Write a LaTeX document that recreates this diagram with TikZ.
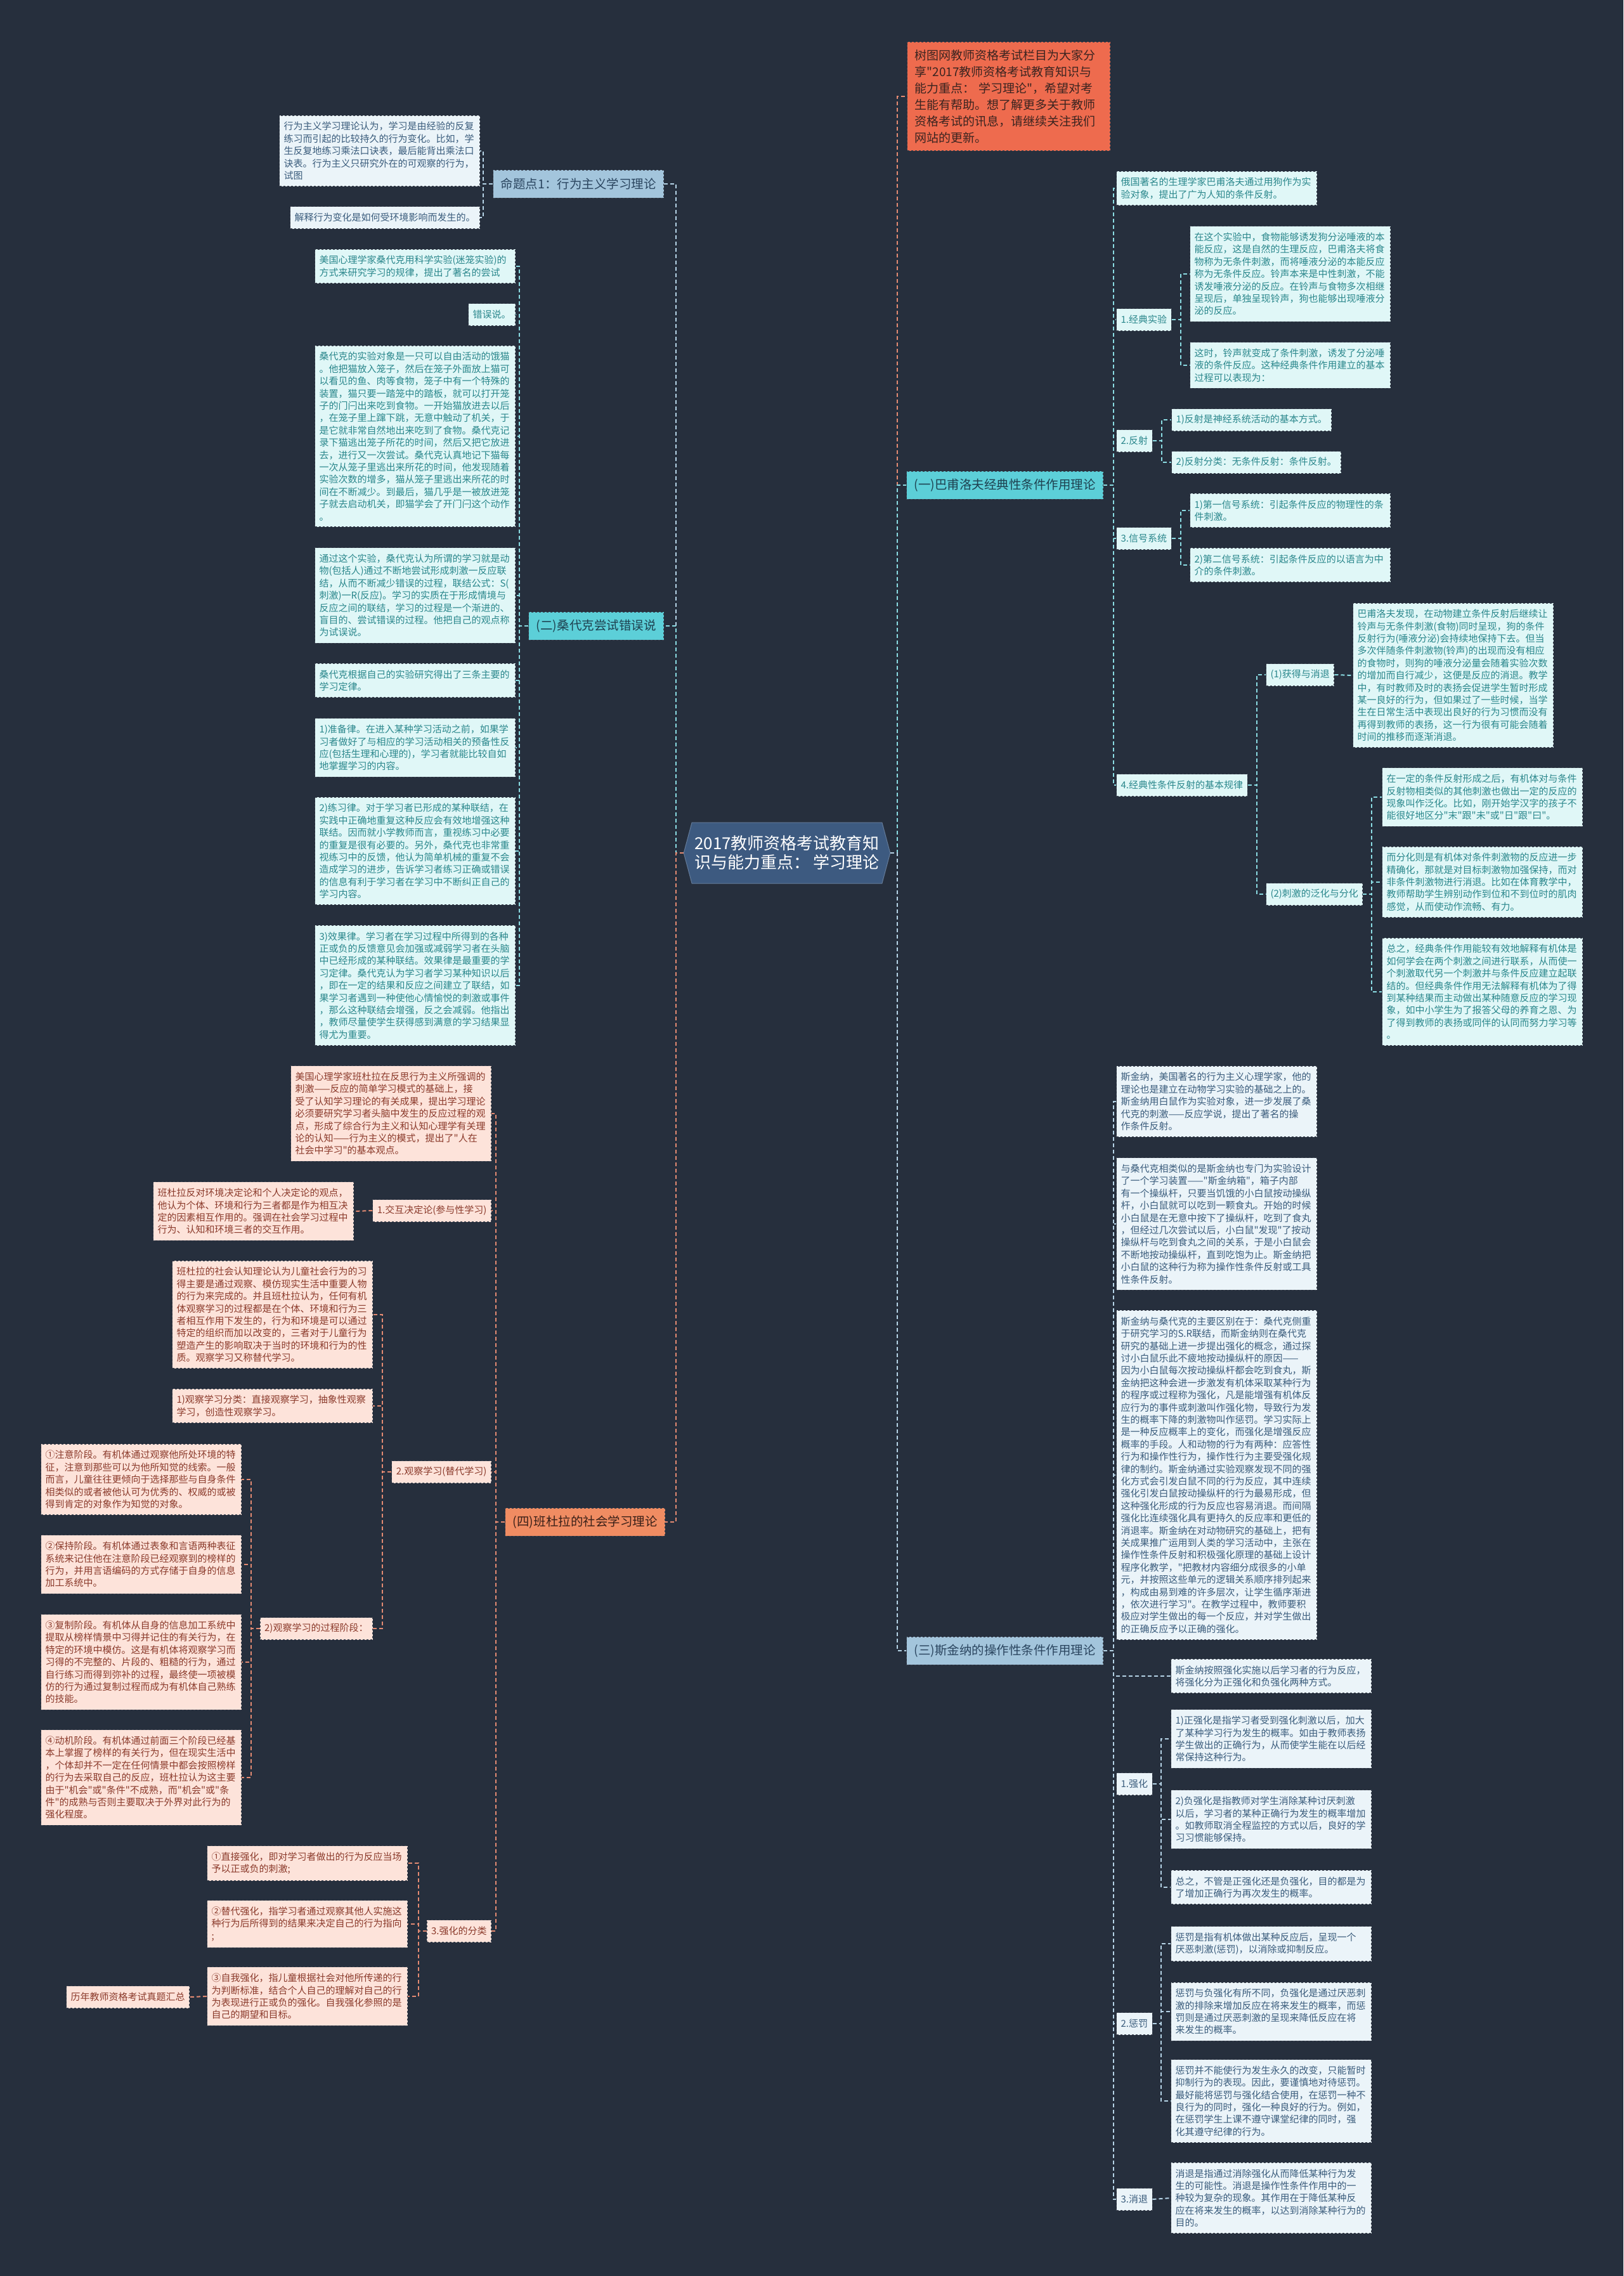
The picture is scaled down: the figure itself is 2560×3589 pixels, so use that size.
\documentclass[tikz,border=0pt]{standalone}
\usepackage{fontspec}
\setmainfont{Noto Sans CJK SC}[Ligatures=TeXOff]
\usetikzlibrary{shapes.symbols}
\definecolor{bg}{HTML}{262F3D}
\definecolor{bd}{HTML}{3C4350}
\definecolor{tcf}{HTML}{E0F7F7}
\definecolor{tct}{HTML}{2A878C}
\definecolor{tcatf}{HTML}{5CCFD8}
\definecolor{tcatt}{HTML}{1E4150}
\definecolor{mcf}{HTML}{EBF4F9}
\definecolor{mct}{HTML}{3A5C7C}
\definecolor{mcatf}{HTML}{A3C5DC}
\definecolor{mcatt}{HTML}{2B4660}
\definecolor{bcf}{HTML}{FDE3DA}
\definecolor{bct}{HTML}{8B3A2B}
\definecolor{bcatf}{HTML}{F08C62}
\definecolor{bcatt}{HTML}{3A2018}
\definecolor{corf}{HTML}{EE6B4E}
\definecolor{cort}{HTML}{3B2420}
\definecolor{ctrf}{HTML}{3D5A80}
\definecolor{lc}{HTML}{8ADBE2}
\definecolor{lb}{HTML}{B5D3E6}
\definecolor{ls}{HTML}{E38A72}
\newcommand\fz{\fontsize{15}{19.4}\selectfont}
\tikzset{
  box/.style={draw=bd, dashed, line width=1pt, align=left, font=\fz},
  multi/.style={box, text width=302pt, inner xsep=7pt, inner ysep=10pt},
  single/.style={box, inner xsep=7pt, inner ysep=4pt, minimum height=35pt},
  tchild/.style={multi, fill=tcf, text=tct},
  tsub/.style={single, fill=tcf, text=tct},
  mchild/.style={multi, fill=mcf, text=mct},
  msub/.style={single, fill=mcf, text=mct},
  bchild/.style={multi, fill=bcf, text=bct},
  bsub/.style={single, fill=bcf, text=bct},
  cat/.style={draw=bd, dashed, line width=1pt, font=\fontsize{19.5}{24}\selectfont, inner xsep=12pt, minimum height=44pt},
  tcat/.style={cat, fill=tcatf, text=tcatt},
  mcat/.style={cat, fill=mcatf, text=mcatt},
  bcat/.style={cat, fill=bcatf, text=bcatt},
  ctrnode/.style={signal, signal to=west and east, signal pointer angle=150, fill=ctrf, draw=ctrf!80!white, line width=1pt, text=white, font=\fontsize{26}{30}\selectfont, align=center, minimum width=322pt, minimum height=96pt, inner xsep=4pt},
  conn/.style={line width=2pt, dash pattern=on 6pt off 4pt},
  cc/.style={conn, draw=lc},
  cb/.style={conn, draw=lb},
  cs/.style={conn, draw=ls},
}
\begin{document}
\begin{tikzpicture}[x=1pt,y=-1pt]
\fill[bg] (0,0) rectangle (2560,3589);
\useasboundingbox (0,0) rectangle (2560,3589);

% ---------- center ----------
\node[ctrnode] (ctr) at (1241,1345) {2017教师资格考试教育知\\识与能力重点： 学习理论};

% ---------- 命题点1 ----------
\node[mcat, anchor=east] (m1) at (1047,290) {命题点1：行为主义学习理论};
\node[mchild, anchor=east] (m1a) at (757,238) {行为主义学习理论认为，学习是由经验的反复\\练习而引起的比较持久的行为变化。比如，学\\生反复地练习乘法口诀表，最后能背出乘法口\\诀表。行为主义只研究外在的可观察的行为，\\试图};
\node[msub, anchor=east] (m1b) at (757,343) {解释行为变化是如何受环境影响而发生的。};

% ---------- (二) 桑代克 ----------
\node[tcat, anchor=east] (t0) at (1047,987) {(二)桑代克尝试错误说};
\node[tchild, anchor=east] (t1) at (813,420) {美国心理学家桑代克用科学实验(迷笼实验)的\\方式来研究学习的规律，提出了著名的尝试};
\node[tsub, anchor=east] (t2) at (813,496) {错误说。};
\node[tchild, anchor=east] (t3) at (813,688) {桑代克的实验对象是一只可以自由活动的饿猫\\。他把猫放入笼子，然后在笼子外面放上猫可\\以看见的鱼、肉等食物，笼子中有一个特殊的\\装置，猫只要一踏笼中的踏板，就可以打开笼\\子的门闩出来吃到食物。一开始猫放进去以后\\，在笼子里上蹿下跳，无意中触动了机关，于\\是它就非常自然地出来吃到了食物。桑代克记\\录下猫逃出笼子所花的时间，然后又把它放进\\去，进行又一次尝试。桑代克认真地记下猫每\\一次从笼子里逃出来所花的时间，他发现随着\\实验次数的增多，猫从笼子里逃出来所花的时\\间在不断减少。到最后，猫几乎是一被放进笼\\子就去启动机关，即猫学会了开门闩这个动作\\。};
\node[tchild, anchor=east] (t4) at (813,939) {通过这个实验，桑代克认为所谓的学习就是动\\物(包括人)通过不断地尝试形成刺激一反应联\\结，从而不断减少错误的过程，联结公式：S(\\刺激)一R(反应)。学习的实质在于形成情境与\\反应之间的联结，学习的过程是一个渐进的、\\盲目的、尝试错误的过程。他把自己的观点称\\为试误说。};
\node[tchild, anchor=east] (t5) at (813,1073) {桑代克根据自己的实验研究得出了三条主要的\\学习定律。};
\node[tchild, anchor=east] (t6) at (813,1179) {1)准备律。在进入某种学习活动之前，如果学\\习者做好了与相应的学习活动相关的预备性反\\应(包括生理和心理的)，学习者就能比较自如\\地掌握学习的内容。};
\node[tchild, anchor=east] (t7) at (813,1342) {2)练习律。对于学习者已形成的某种联结，在\\实践中正确地重复这种反应会有效地增强这种\\联结。因而就小学教师而言，重视练习中必要\\的重复是很有必要的。另外，桑代克也非常重\\视练习中的反馈，他认为简单机械的重复不会\\造成学习的进步，告诉学习者练习正确或错误\\的信息有利于学习者在学习中不断纠正自己的\\学习内容。};
\node[tchild, anchor=east] (t8) at (813,1554) {3)效果律。学习者在学习过程中所得到的各种\\正或负的反馈意见会加强或减弱学习者在头脑\\中已经形成的某种联结。效果律是最重要的学\\习定律。桑代克认为学习者学习某种知识以后\\，即在一定的结果和反应之间建立了联结，如\\果学习者遇到一种使他心情愉悦的刺激或事件\\，那么这种联结会增强，反之会减弱。他指出\\，教师尽量使学生获得感到满意的学习结果显\\得尤为重要。};

% ---------- (四) 班杜拉 ----------
\node[bcat, anchor=east] (b0) at (1049,2400) {(四)班杜拉的社会学习理论};
\node[bchild, anchor=east] (b1) at (775,1756) {美国心理学家班杜拉在反思行为主义所强调的\\刺激——反应的简单学习模式的基础上，接\\受了认知学习理论的有关成果，提出学习理论\\必须要研究学习者头脑中发生的反应过程的观\\点，形成了综合行为主义和认知心理学有关理\\论的认知——行为主义的模式，提出了"人在\\社会中学习"的基本观点。};
\node[bsub, anchor=east] (b2) at (775,1909) {1.交互决定论(参与性学习)};
\node[bchild, anchor=east] (b2a) at (558,1910) {班杜拉反对环境决定论和个人决定论的观点，\\他认为个体、环境和行为三者都是作为相互决\\定的因素相互作用的。强调在社会学习过程中\\行为、认知和环境三者的交互作用。};
\node[bsub, anchor=east] (b3) at (775,2321) {2.观察学习(替代学习)};
\node[bchild, anchor=east] (b3a) at (588,2073) {班杜拉的社会认知理论认为儿童社会行为的习\\得主要是通过观察、模仿现实生活中重要人物\\的行为来完成的。并且班杜拉认为，任何有机\\体观察学习的过程都是在个体、环境和行为三\\者相互作用下发生的，行为和环境是可以通过\\特定的组织而加以改变的，三者对于儿童行为\\塑造产生的影响取决于当时的环境和行为的性\\质。观察学习又称替代学习。};
\node[bchild, anchor=east] (b3b) at (588,2217) {1)观察学习分类：直接观察学习，抽象性观察\\学习，创造性观察学习。};
\node[bsub, anchor=east] (b3c) at (588,2568) {2)观察学习的过程阶段：};
\node[bchild, anchor=east] (b3c1) at (381,2333) {①注意阶段。有机体通过观察他所处环境的特\\征，注意到那些可以为他所知觉的线索。一般\\而言，儿童往往更倾向于选择那些与自身条件\\相类似的或者被他认可为优秀的、权威的或被\\得到肯定的对象作为知觉的对象。};
\node[bchild, anchor=east] (b3c2) at (381,2467) {②保持阶段。有机体通过表象和言语两种表征\\系统来记住他在注意阶段已经观察到的榜样的\\行为，并用言语编码的方式存储于自身的信息\\加工系统中。};
\node[bchild, anchor=east] (b3c3) at (381,2621) {③复制阶段。有机体从自身的信息加工系统中\\提取从榜样情景中习得并记住的有关行为，在\\特定的环境中模仿。这是有机体将观察学习而\\习得的不完整的、片段的、粗糙的行为，通过\\自行练习而得到弥补的过程，最终使一项被模\\仿的行为通过复制过程而成为有机体自己熟练\\的技能。};
\node[bchild, anchor=east] (b3c4) at (381,2803) {④动机阶段。有机体通过前面三个阶段已经基\\本上掌握了榜样的有关行为，但在现实生活中\\，个体却并不一定在任何情景中都会按照榜样\\的行为去采取自己的反应，班杜拉认为这主要\\由于"机会"或"条件"不成熟，而"机会"或"条\\件"的成熟与否则主要取决于外界对此行为的\\强化程度。};
\node[bsub, anchor=east] (b4) at (775,3045) {3.强化的分类};
\node[bchild, anchor=east] (b4a) at (643,2938) {①直接强化，即对学习者做出的行为反应当场\\予以正或负的刺激;};
\node[bchild, anchor=east] (b4b) at (643,3034) {②替代强化，指学习者通过观察其他人实施这\\种行为后所得到的结果来决定自己的行为指向\\;};
\node[bchild, anchor=east] (b4c) at (643,3148) {③自我强化，指儿童根据社会对他所传递的行\\为判断标准，结合个人自己的理解对自己的行\\为表现进行正或负的强化。自我强化参照的是\\自己的期望和目标。};
\node[bsub, anchor=east] (b4d) at (299,3149) {历年教师资格考试真题汇总};

% ---------- coral intro ----------
\node[draw=bd, dashed, line width=1pt, fill=corf, text=cort, anchor=west, text width=296pt, inner xsep=12pt, inner ysep=12pt, align=left, font=\fontsize{19}{26}\selectfont] (co) at (1430,152) {树图网教师资格考试栏目为大家分\\享"2017教师资格考试教育知识与\\能力重点： 学习理论"，希望对考\\生能有帮助。想了解更多关于教师\\资格考试的讯息，请继续关注我们\\网站的更新。};

% ---------- (一) 巴甫洛夫 ----------
\node[tcat, anchor=west] (p0) at (1429,765) {(一)巴甫洛夫经典性条件作用理论};
\node[tchild, anchor=west] (p1) at (1760,297) {俄国著名的生理学家巴甫洛夫通过用狗作为实\\验对象，提出了广为人知的条件反射。};
\node[tsub, anchor=west] (p2) at (1760,504) {1.经典实验};
\node[tchild, anchor=west] (p2a) at (1876,432) {在这个实验中，食物能够诱发狗分泌唾液的本\\能反应，这是自然的生理反应，巴甫洛夫将食\\物称为无条件刺激，而将唾液分泌的本能反应\\称为无条件反应。铃声本来是中性刺激，不能\\诱发唾液分泌的反应。在铃声与食物多次相继\\呈现后，单独呈现铃声，狗也能够出现唾液分\\泌的反应。};
\node[tchild, anchor=west] (p2b) at (1876,576) {这时，铃声就变成了条件刺激，诱发了分泌唾\\液的条件反应。这种经典条件作用建立的基本\\过程可以表现为：};
\node[tsub, anchor=west] (p3) at (1760,695) {2.反射};
\node[tsub, anchor=west] (p3a) at (1847,662) {1)反射是神经系统活动的基本方式。};
\node[tsub, anchor=west] (p3b) at (1847,729) {2)反射分类：无条件反射：条件反射。};
\node[tsub, anchor=west] (p4) at (1760,849) {3.信号系统};
\node[tchild, anchor=west] (p4a) at (1876,805) {1)第一信号系统：引起条件反应的物理性的条\\件刺激。};
\node[tchild, anchor=west] (p4b) at (1876,891) {2)第二信号系统：引起条件反应的以语言为中\\介的条件刺激。};
\node[tsub, anchor=west] (p5) at (1760,1238) {4.经典性条件反射的基本规律};
\node[tsub, anchor=west] (p5a) at (1996,1064) {(1)获得与消退};
\node[tchild, anchor=west] (p5a1) at (2133,1065) {巴甫洛夫发现，在动物建立条件反射后继续让\\铃声与无条件刺激(食物)同时呈现，狗的条件\\反射行为(唾液分泌)会持续地保持下去。但当\\多次伴随条件刺激物(铃声)的出现而没有相应\\的食物时，则狗的唾液分泌量会随着实验次数\\的增加而自行减少，这便是反应的消退。教学\\中，有时教师及时的表扬会促进学生暂时形成\\某一良好的行为，但如果过了一些时候，当学\\生在日常生活中表现出良好的行为习惯而没有\\再得到教师的表扬，这一行为很有可能会随着\\时间的推移而逐渐消退。};
\node[tsub, anchor=west] (p5b) at (1996,1410) {(2)刺激的泛化与分化};
\node[tchild, anchor=west] (p5b1) at (2179,1257) {在一定的条件反射形成之后，有机体对与条件\\反射物相类似的其他刺激也做出一定的反应的\\现象叫作泛化。比如，刚开始学汉字的孩子不\\能很好地区分"末"跟"未"或"日"跟"曰"。};
\node[tchild, anchor=west] (p5b2) at (2179,1391) {而分化则是有机体对条件刺激物的反应进一步\\精确化，那就是对目标刺激物加强保持，而对\\非条件刺激物进行消退。比如在体育教学中，\\教师帮助学生辨别动作到位和不到位时的肌肉\\感觉，从而使动作流畅、有力。};
\node[tchild, anchor=west] (p5b3) at (2179,1564) {总之，经典条件作用能较有效地解释有机体是\\如何学会在两个刺激之间进行联系，从而使一\\个刺激取代另一个刺激并与条件反应建立起联\\结的。但经典条件作用无法解释有机体为了得\\到某种结果而主动做出某种随意反应的学习现\\象，如中小学生为了报答父母的养育之恩、为\\了得到教师的表扬或同伴的认同而努力学习等\\。};

% ---------- (三) 斯金纳 ----------
\node[mcat, anchor=west] (s0) at (1429,2603) {(三)斯金纳的操作性条件作用理论};
\node[mchild, anchor=west] (s1) at (1760,1737) {斯金纳，美国著名的行为主义心理学家，他的\\理论也是建立在动物学习实验的基础之上的。\\斯金纳用白鼠作为实验对象，进一步发展了桑\\代克的刺激——反应学说，提出了著名的操\\作条件反射。};
\node[mchild, anchor=west] (s2) at (1760,1930) {与桑代克相类似的是斯金纳也专门为实验设计\\了一个学习装置——"斯金纳箱"，箱子内部\\有一个操纵杆，只要当饥饿的小白鼠按动操纵\\杆，小白鼠就可以吃到一颗食丸。开始的时候\\小白鼠是在无意中按下了操纵杆，吃到了食丸\\，但经过几次尝试以后，小白鼠"发现"了按动\\操纵杆与吃到食丸之间的关系，于是小白鼠会\\不断地按动操纵杆，直到吃饱为止。斯金纳把\\小白鼠的这种行为称为操作性条件反射或工具\\性条件反射。};
\node[mchild, anchor=west] (s3) at (1760,2326) {斯金纳与桑代克的主要区别在于：桑代克侧重\\于研究学习的S.R联结，而斯金纳则在桑代克\\研究的基础上进一步提出强化的概念，通过探\\讨小白鼠乐此不疲地按动操纵杆的原因——\\因为小白鼠每次按动操纵杆都会吃到食丸，斯\\金纳把这种会进一步激发有机体采取某种行为\\的程序或过程称为强化，凡是能增强有机体反\\应行为的事件或刺激叫作强化物，导致行为发\\生的概率下降的刺激物叫作惩罚。学习实际上\\是一种反应概率上的变化，而强化是增强反应\\概率的手段。人和动物的行为有两种：应答性\\行为和操作性行为，操作性行为主要受强化规\\律的制约。斯金纳通过实验观察发现不同的强\\化方式会引发白鼠不同的行为反应，其中连续\\强化引发白鼠按动操纵杆的行为最易形成，但\\这种强化形成的行为反应也容易消退。而间隔\\强化比连续强化具有更持久的反应率和更低的\\消退率。斯金纳在对动物研究的基础上，把有\\关成果推广运用到人类的学习活动中，主张在\\操作性条件反射和积极强化原理的基础上设计\\程序化教学，"把教材内容细分成很多的小单\\元，并按照这些单元的逻辑关系顺序排列起来\\，构成由易到难的许多层次，让学生循序渐进\\，依次进行学习"。在教学过程中，教师要积\\极应对学生做出的每一个反应，并对学生做出\\的正确反应予以正确的强化。};
\node[mchild, anchor=west] (s4) at (1846,2643) {斯金纳按照强化实施以后学习者的行为反应，\\将强化分为正强化和负强化两种方式。};
\node[msub, anchor=west] (s5) at (1760,2813) {1.强化};
\node[mchild, anchor=west] (s5a) at (1846,2742) {1)正强化是指学习者受到强化刺激以后，加大\\了某种学习行为发生的概率。如由于教师表扬\\学生做出的正确行为，从而使学生能在以后经\\常保持这种行为。};
\node[mchild, anchor=west] (s5b) at (1846,2869) {2)负强化是指教师对学生消除某种讨厌刺激\\以后，学习者的某种正确行为发生的概率增加\\。如教师取消全程监控的方式以后，良好的学\\习习惯能够保持。};
\node[mchild, anchor=west] (s5c) at (1846,2976) {总之，不管是正强化还是负强化，目的都是为\\了增加正确行为再次发生的概率。};
\node[msub, anchor=west] (s6) at (1760,3191) {2.惩罚};
\node[mchild, anchor=west] (s6a) at (1846,3065) {惩罚是指有机体做出某种反应后，呈现一个\\厌恶刺激(惩罚)，以消除或抑制反应。};
\node[mchild, anchor=west] (s6b) at (1846,3172) {惩罚与负强化有所不同，负强化是通过厌恶刺\\激的排除来增加反应在将来发生的概率，而惩\\罚则是通过厌恶刺激的呈现来降低反应在将\\来发生的概率。};
\node[mchild, anchor=west] (s6c) at (1846,3313) {惩罚并不能使行为发生永久的改变，只能暂时\\抑制行为的表现。因此，要谨慎地对待惩罚。\\最好能将惩罚与强化结合使用，在惩罚一种不\\良行为的同时，强化一种良好的行为。例如，\\在惩罚学生上课不遵守课堂纪律的同时，强\\化其遵守纪律的行为。};
\node[msub, anchor=west] (s7) at (1760,3468) {3.消退};
\node[mchild, anchor=west] (s7a) at (1846,3466) {消退是指通过消除强化从而降低某种行为发\\生的可能性。消退是操作性条件作用中的一\\种较为复杂的现象。其作用在于降低某种反\\应在将来发生的概率，以达到消除某种行为的\\目的。};

% ---------- connectors: left ----------
\draw[cb] (ctr.west) -- ++(-12,0) |- (m1.east);
\draw[cc] (ctr.west) -- ++(-12,0) |- (t0.east);
\draw[cs] (ctr.west) -- ++(-12,0) |- (b0.east);
\foreach \c in {m1a,m1b} \draw[cb] (m1.west) -- ++(-15,0) |- (\c.east);
\foreach \c in {t1,t2,t3,t4,t5,t6,t7,t8} \draw[cc] (t0.west) -- ++(-14,0) |- (\c.east);
\foreach \c in {b1,b2,b3,b4} \draw[cs] (b0.west) -- ++(-14,0) |- (\c.east);
\draw[cs] (b2.west) -- (b2a.east);
\foreach \c in {b3a,b3b,b3c} \draw[cs] (b3.west) -- ++(-14,0) |- (\c.east);
\foreach \c in {b3c1,b3c2,b3c3,b3c4} \draw[cs] (b3c.west) -- ++(-14,0) |- (\c.east);
\foreach \c in {b4a,b4b,b4c} \draw[cs] (b4.west) -- ++(-13,0) |- (\c.east);
\draw[cs] (b4c.west) -- (b4d.east);

% ---------- connectors: right ----------
\draw[cs] (ctr.east) -- ++(11,0) |- (co.west);
\draw[cc] (ctr.east) -- ++(11,0) |- (p0.west);
\draw[cb] (ctr.east) -- ++(11,0) |- (s0.west);
\foreach \c in {p1,p2,p3,p4,p5} \draw[cc] (p0.east) -- ++(16,0) |- (\c.west);
\foreach \c in {p2a,p2b} \draw[cc] (p2.east) -- ++(14,0) |- (\c.west);
\foreach \c in {p3a,p3b} \draw[cc] (p3.east) -- ++(14,0) |- (\c.west);
\foreach \c in {p4a,p4b} \draw[cc] (p4.east) -- ++(14,0) |- (\c.west);
\foreach \c in {p5a,p5b} \draw[cc] (p5.east) -- ++(14,0) |- (\c.west);
\draw[cc] (p5a.east) -- (p5a1.west);
\foreach \c in {p5b1,p5b2,p5b3} \draw[cc] (p5b.east) -- ++(14,0) |- (\c.west);
\foreach \c in {s1,s2,s3,s4,s5,s6,s7} \draw[cb] (s0.east) -- ++(16,0) |- (\c.west);
\foreach \c in {s5a,s5b,s5c} \draw[cb] (s5.east) -- ++(13,0) |- (\c.west);
\foreach \c in {s6a,s6b,s6c} \draw[cb] (s6.east) -- ++(13,0) |- (\c.west);
\draw[cb] (s7.east) -- (s7a.west);
\end{tikzpicture}
\end{document}
